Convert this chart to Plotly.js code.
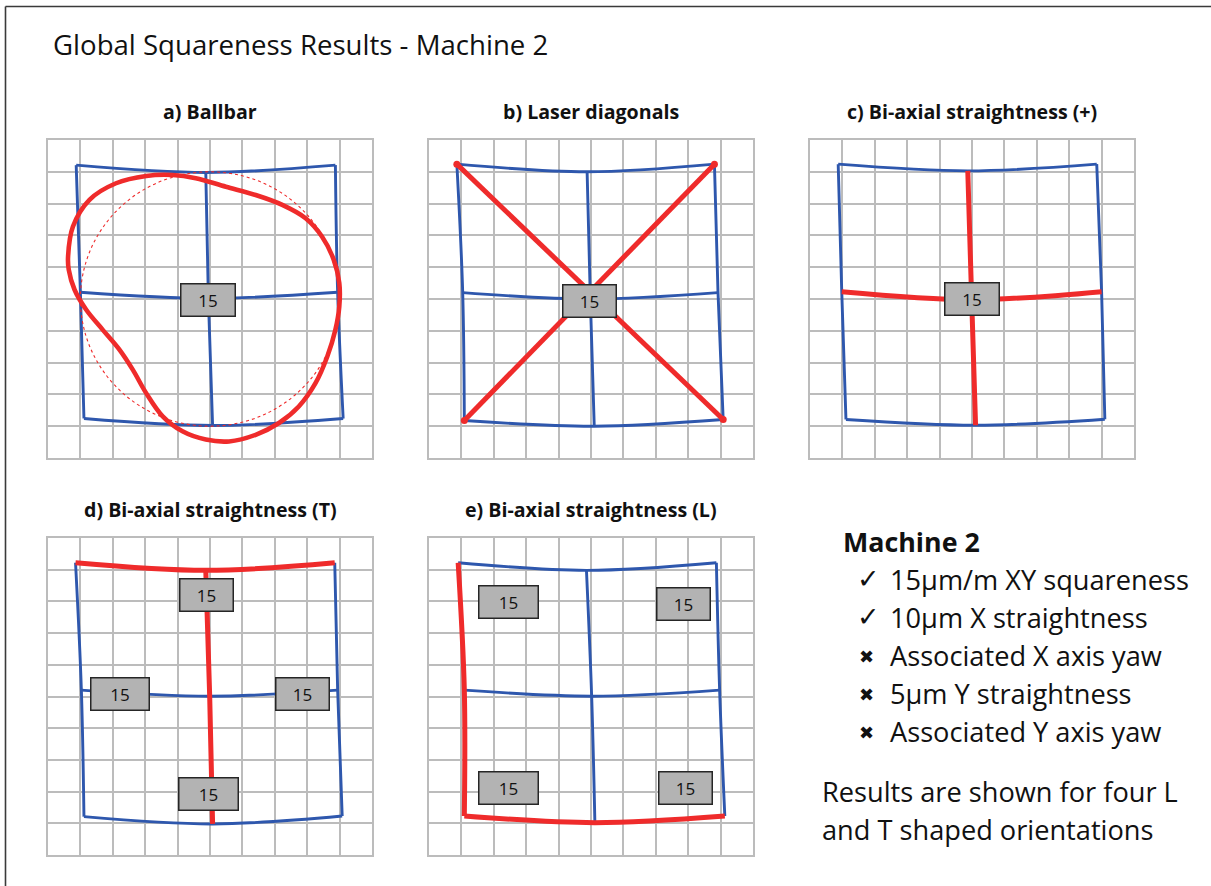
<!DOCTYPE html>
<html>
<head>
<meta charset="utf-8">
<script src="https://cdn.plot.ly/plotly-3.0.1.min.js"></script>
<style>
  html, body { margin: 0; padding: 0; background: #ffffff; }
  #chart { width: 1211px; height: 886px; }
</style>
</head>
<body>
<div id="chart"></div>
<script>
// ---- Measured grid nodes (rows: top, middle, bottom; columns: left, centre, right) ----
const ballbarNodesX = [[0.87, 4.87, 8.87], [1.00, 4.95, 8.94], [1.11, 5.08, 9.11]];
const ballbarNodesY = [[9.21, 8.98, 9.21], [5.21, 5.02, 5.21], [1.24, 1.02, 1.24]];

const diagonalNodesX = [[0.86, 4.88, 8.81], [1.04, 4.98, 8.92], [1.09, 5.10, 9.08]];
const diagonalNodesY = [[9.24, 9.00, 9.24], [5.20, 5.00, 5.20], [1.18, 1.00, 1.21]];

const plusNodesX = [[0.87, 4.87, 8.85], [0.98, 4.99, 9.00], [1.11, 5.11, 9.10]];
const plusNodesY = [[9.24, 9.03, 9.24], [5.23, 4.98, 5.23], [1.21, 1.03, 1.22]];

const teeNodesX = [[0.85, 4.87, 8.85], [1.03, 4.99, 8.94], [1.11, 5.08, 9.08]];
const teeNodesY = [[9.22, 8.98, 9.22], [5.20, 5.01, 5.20], [1.21, 0.98, 1.23]];

const ellNodesX = [[0.90, 4.86, 8.87], [1.09, 5.02, 8.97], [1.09, 5.12, 9.13]];
const ellNodesY = [[9.22, 8.98, 9.22], [5.20, 5.01, 5.20], [1.23, 1.02, 1.23]];

// ---- Ballbar trace (measured polar plot) and its reference circle ----
const ballbarTraceX = [0.62, 0.77, 1.28, 2.10, 3.03, 3.85, 4.56, 5.49, 6.41, 7.23, 7.95, 8.46, 8.82,
  8.99, 8.99, 8.87, 8.62, 8.26, 7.74, 7.13, 6.41, 5.59, 4.87, 4.15, 3.54, 3.03, 2.62, 2.21, 1.69,
  1.18, 0.82, 0.64, 0.62];
const ballbarTraceY = [6.34, 7.28, 8.12, 8.64, 8.87, 8.90, 8.80, 8.53, 8.27, 7.96, 7.54, 6.96, 6.23,
  5.50, 4.76, 4.03, 3.19, 2.36, 1.62, 1.10, 0.73, 0.52, 0.58, 0.84, 1.31, 2.04, 2.77, 3.40, 4.03,
  4.66, 5.29, 5.92, 6.34];
const ballbarRefCentre = [5.0, 5.0];
const ballbarRefRadius = 4.0;

// ---- Squareness values (µm/m) shown in the boxes ----
const ballbarValues = [15];
const diagonalValues = [15];
const plusValues = [15];
const teeValues = [15, 15, 15, 15];
const ellValues = [15, 15, 15, 15];

// ---- Panel titles and summary text ----
const panelTitles = ['a) Ballbar', 'b) Laser diagonals', 'c) Bi-axial straightness (+)',
  'd) Bi-axial straightness (T)', 'e) Bi-axial straightness (L)'];
const summaryHeading = 'Machine 2';
const findingMarks = ['✓', '✓', '✖', '✖', '✖'];
const findings = ['15µm/m XY squareness', '10µm X straightness', 'Associated X axis yaw',
  '5µm Y straightness', 'Associated Y axis yaw'];
const footnote = ['Results are shown for four L', 'and T shaped orientations'];
const pageTitle = 'Global Squareness Results - Machine 2';

// ---- Styling / layout ----
const W = 1211, H = 886;
const BLUE = '#2e57ad', RED = '#ef2b2b', GRID = '#bcbcbc';
const FONT = '"Open Sans", Lato, sans-serif';
const TEXT_SIZE = 27.2;
const fx = p => p / W;
const fy = p => 1 - p / H;

// panel boxes in pixels: [left, right, top, bottom]
const panelPx = [
  [48, 372, 140, 458], [429, 753, 140, 458], [810, 1134, 140, 458],
  [48, 372, 538, 855], [429, 753, 538, 855]
];

const traces = [];

function lineTrace(ax, xs, ys, color, width) {
  traces.push({
    type: 'scatter', mode: 'lines', xaxis: 'x' + ax, yaxis: 'y' + ax,
    x: xs, y: ys, hoverinfo: 'skip',
    line: { color: color, width: width, shape: 'spline', smoothing: 1 }
  });
}
const row = (nx, ny, r) => [nx[r], ny[r]];
const col = (nx, ny, c) => [nx.map(rw => rw[c]), ny.map(rw => rw[c])];

// draw a 3x3 node grid; redRows / redCols pick the segments traced in red
function nodeGrid(ax, nx, ny, redRows, redCols) {
  const red = [];
  for (let r = 0; r < 3; r++) {
    const [xs, ys] = row(nx, ny, r);
    if (redRows.includes(r)) red.push([xs, ys]); else lineTrace(ax, xs, ys, BLUE, 2.9);
  }
  for (let c = 0; c < 3; c++) {
    const [xs, ys] = col(nx, ny, c);
    if (redCols.includes(c)) red.push([xs, ys]); else lineTrace(ax, xs, ys, BLUE, 2.9);
  }
  red.forEach(([xs, ys]) => lineTrace(ax, xs, ys, RED, 5));
}

// a) ballbar
nodeGrid('', ballbarNodesX, ballbarNodesY, [], []);
lineTrace('', ballbarTraceX, ballbarTraceY, RED, 4.6);

// b) laser diagonals
nodeGrid('2', diagonalNodesX, diagonalNodesY, [], []);
[[[0, 0], [2, 2]], [[0, 2], [2, 0]]].forEach(([p, q]) => {
  traces.push({
    type: 'scatter', mode: 'lines+markers', xaxis: 'x2', yaxis: 'y2', hoverinfo: 'skip',
    x: [diagonalNodesX[p[0]][p[1]], diagonalNodesX[q[0]][q[1]]],
    y: [diagonalNodesY[p[0]][p[1]], diagonalNodesY[q[0]][q[1]]],
    line: { color: RED, width: 5 }, marker: { color: RED, size: 7 }
  });
});

// c) bi-axial straightness (+): centre row and column in red
nodeGrid('3', plusNodesX, plusNodesY, [1], [1]);

// d) bi-axial straightness (T): top row and centre column in red
nodeGrid('4', teeNodesX, teeNodesY, [0], [1]);

// e) bi-axial straightness (L): bottom row and left column in red
nodeGrid('5', ellNodesX, ellNodesY, [2], [0]);

// ---- axes ----
const layout = {
  width: W, height: H,
  margin: { l: 0, r: 0, t: 0, b: 0 },
  paper_bgcolor: '#ffffff', plot_bgcolor: '#ffffff',
  showlegend: false,
  font: { family: FONT, color: '#111111' },
  annotations: [], shapes: []
};
panelPx.forEach((p, i) => {
  const sfx = i === 0 ? '' : String(i + 1);
  const common = {
    range: [0, 10], dtick: 1, tick0: 0, showgrid: true, gridcolor: GRID, gridwidth: 2,
    showline: true, mirror: true, linecolor: GRID, linewidth: 2,
    showticklabels: false, ticks: '', zeroline: false, fixedrange: true
  };
  layout['xaxis' + sfx] = Object.assign({}, common, {
    domain: [fx(p[0]), fx(p[1])], anchor: 'y' + sfx
  });
  layout['yaxis' + sfx] = Object.assign({}, common, {
    domain: [fy(p[3]), fy(p[2])], anchor: 'x' + sfx
  });
  layout.annotations.push({
    xref: 'paper', yref: 'paper', x: fx((p[0] + p[1]) / 2), y: fy(p[2] - 29),
    text: '<b>' + panelTitles[i] + '</b>', showarrow: false,
    xanchor: 'center', yanchor: 'middle', font: { size: 19.6, family: FONT, color: '#111' }
  });
});

// reference circle of the ballbar plot
layout.shapes.push({
  type: 'circle', xref: 'x', yref: 'y', layer: 'above',
  x0: ballbarRefCentre[0] - ballbarRefRadius, x1: ballbarRefCentre[0] + ballbarRefRadius,
  y0: ballbarRefCentre[1] - ballbarRefRadius, y1: ballbarRefCentre[1] + ballbarRefRadius,
  line: { color: RED, width: 1.1, dash: 'dot' }
});

// value boxes: [axis suffix, values, centres, box widths px]
const boxSets = [
  ['', ballbarValues, [[4.94, 4.97]], [53]],
  ['2', diagonalValues, [[4.95, 4.93]], [52]],
  ['3', plusValues, [[4.99, 5.01]], [53]],
  ['4', teeValues, [[4.90, 8.21], [2.23, 5.09], [7.85, 5.09], [4.94, 1.92]], [52, 57, 52, 58]],
  ['5', ellValues, [[2.45, 7.98], [7.86, 7.93], [2.45, 2.10], [7.92, 2.10]], [58, 52, 58, 52]]
];
boxSets.forEach(([ax, vals, centres, widths]) => {
  vals.forEach((v, k) => {
    layout.annotations.push({
      xref: 'x' + ax, yref: 'y' + ax, x: centres[k][0], y: centres[k][1],
      text: String(v), showarrow: false, xanchor: 'center', yanchor: 'middle',
      width: widths[k], height: 31, borderpad: 0, align: 'center', valign: 'middle',
      bgcolor: '#b3b3b3', bordercolor: '#262626', borderwidth: 1.5,
      font: { size: 17, family: FONT, color: '#111' }
    });
  });
});

// page title
layout.annotations.push({
  xref: 'paper', yref: 'paper', x: fx(51), y: fy(44), text: pageTitle, showarrow: false,
  xanchor: 'left', yanchor: 'middle', font: { size: 27.6, family: FONT, color: '#111' }
});

// summary block
layout.annotations.push({
  xref: 'paper', yref: 'paper', x: fx(841), y: fy(541), text: '<b>' + summaryHeading + '</b>',
  showarrow: false, xanchor: 'left', yanchor: 'middle', font: { size: 26.8, family: FONT, color: '#111' }
});
findings.forEach((t, i) => {
  const yPx = 579 + i * 38;
  const isCheck = findingMarks[i] === '✓';
  layout.annotations.push({
    xref: 'paper', yref: 'paper', x: fx(isCheck ? 855 : 857), y: fy(yPx + (isCheck ? -1 : 1)),
    text: findingMarks[i], showarrow: false, xanchor: 'left', yanchor: 'middle',
    font: { size: isCheck ? 27 : 18, family: '"DejaVu Sans", sans-serif', color: '#111' }
  });
  layout.annotations.push({
    xref: 'paper', yref: 'paper', x: fx(888), y: fy(yPx), text: t, showarrow: false,
    xanchor: 'left', yanchor: 'middle', font: { size: TEXT_SIZE, family: FONT, color: '#111' }
  });
});
footnote.forEach((t, i) => {
  layout.annotations.push({
    xref: 'paper', yref: 'paper', x: fx(820), y: fy(791 + i * 38), text: t, showarrow: false,
    xanchor: 'left', yanchor: 'middle', font: { size: TEXT_SIZE, family: FONT, color: '#111' }
  });
});

// slide frame (top and left edges)
layout.shapes.push({
  type: 'line', xref: 'paper', yref: 'paper', x0: fx(5.5), x1: 1, y0: fy(6.5), y1: fy(6.5),
  line: { color: '#3a3a3a', width: 1.6 }
});
layout.shapes.push({
  type: 'line', xref: 'paper', yref: 'paper', x0: fx(5.5), x1: fx(5.5), y0: fy(6.5), y1: 0,
  line: { color: '#3a3a3a', width: 1.6 }
});

Plotly.newPlot('chart', traces, layout, { staticPlot: true, displayModeBar: false });
</script>
</body>
</html>
